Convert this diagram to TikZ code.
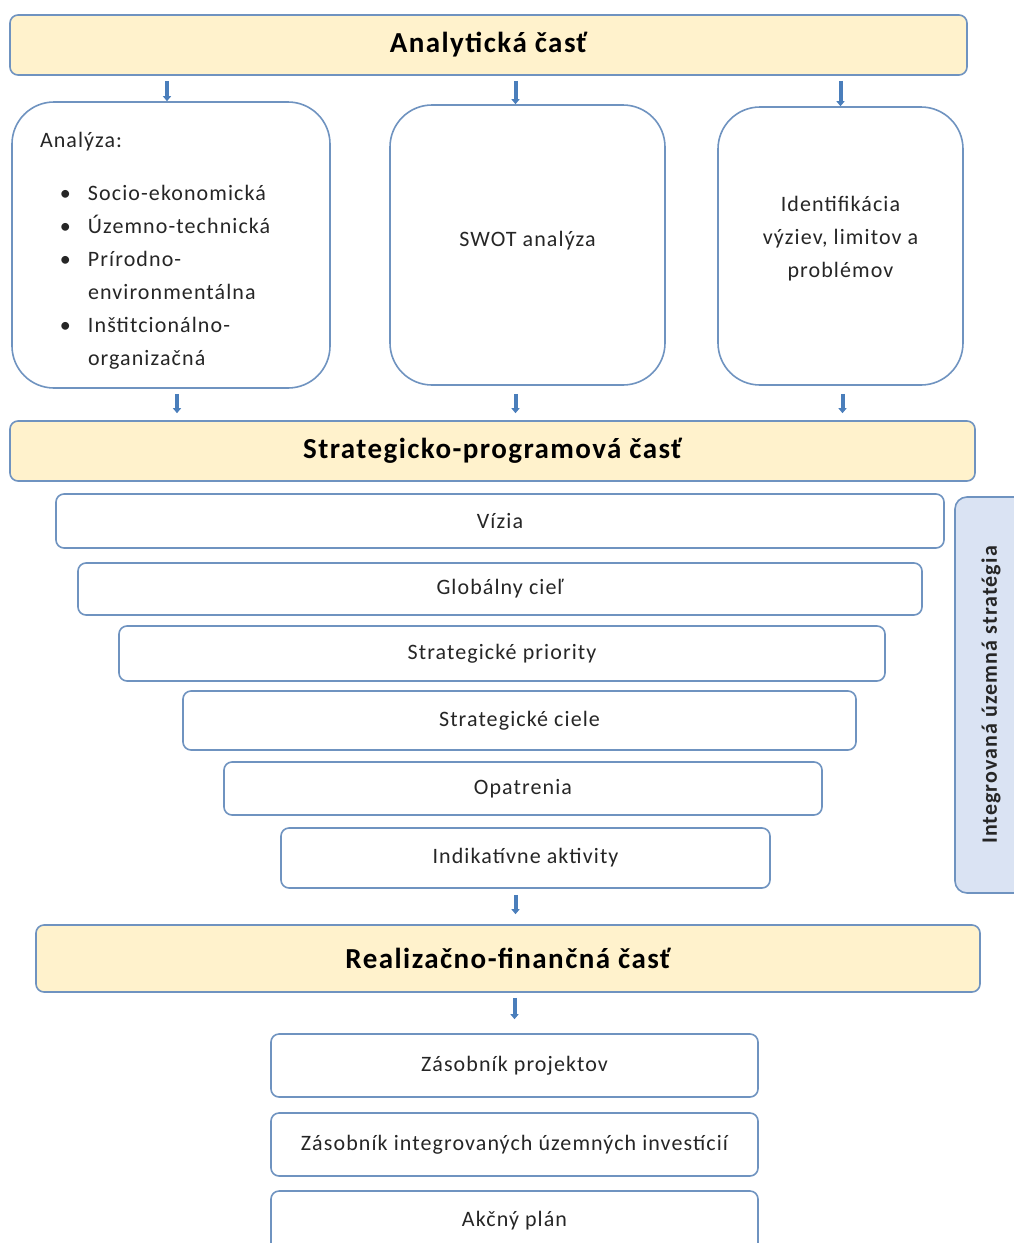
\documentclass[tikz,border=0pt]{standalone}
\usepackage{fontspec}
\setmainfont{Carlito}[LetterSpace=5]
\usetikzlibrary{arrows.meta}
\definecolor{edgeblue}{HTML}{6F93C0}
\definecolor{headfill}{HTML}{FFF2CC}
\definecolor{sidefill}{HTML}{DAE3F3}
\definecolor{arrowblue}{HTML}{4A7EBB}
\definecolor{textgray}{HTML}{262626}
\newcommand\itm{\makebox[48pt][l]{\hspace{20pt}\textbullet}}
\newcommand\ind{\hspace*{48pt}}
\tikzset{
    head/.style={draw=edgeblue, line width=1.6pt, fill=headfill, rounded corners=8pt,
        font=\fontsize{29}{34}\selectfont\bfseries, text=black},
    bigbox/.style={draw=edgeblue, line width=1.6pt, fill=white, rounded corners=42pt,
        font=\fontsize{22}{33}\selectfont, text=textgray},
    stepbox/.style={draw=edgeblue, line width=1.6pt, fill=white, rounded corners=8pt,
        font=\fontsize{22}{26}\selectfont, text=textgray},
    arr/.style={draw=arrowblue, line width=4pt, -{Triangle[width=8pt,length=5pt]}}
}
\begin{document}
\begin{tikzpicture}[x=1pt, y=-1pt]
    \useasboundingbox (0,0) rectangle (1014,1243);
    % analyticka cast
    \node[head, minimum width=957, minimum height=60] (h1) at (488.5,45) {Analytická časť};
    \node[bigbox, minimum width=318, minimum height=286, text width=262, align=left] (analyza) at (171,245)
        {\mbox{}\\[-7pt]
         Analýza:\\[20pt]
         \itm Socio-ekonomická\\
         \itm Územno-technická\\
         \itm Prírodno-\\
         \ind environmentálna\\
         \itm Inštitcionálno-\\
         \ind organizačná};
    \node[bigbox, minimum width=275, minimum height=280, align=center] (swot) at (527.5,245) {SWOT analýza\\[-21pt]};
    \node[bigbox, minimum width=245, minimum height=278, align=center] (vyzvy) at (840.5,246)
        {Identifikácia\\výziev, limitov a\\problémov\\[-15pt]};
    \draw[arr, shorten <=5pt] ([xshift=-4pt]analyza.north |- h1.south) -- ([xshift=-4pt]analyza.north);
    \draw[arr, shorten <=5pt] ([xshift=-12pt]swot.north |- h1.south) -- ([xshift=-12pt]swot.north);
    \draw[arr, shorten <=5pt] (vyzvy.north |- h1.south) -- (vyzvy.north);
    % strategicko-programova cast
    \node[head, minimum width=965, minimum height=60] (h2) at (492.5,451) {Strategicko-programová časť};
    \draw[arr, shorten <=5pt, shorten >=7pt] ([xshift=6pt]analyza.south) -- ([xshift=6pt]analyza.south |- h2.north);
    \draw[arr, shorten <=8pt, shorten >=7pt] ([xshift=-12pt]swot.south) -- ([xshift=-12pt]swot.south |- h2.north);
    \draw[arr, shorten <=8pt, shorten >=7pt] ([xshift=2pt]vyzvy.south) -- ([xshift=2pt]vyzvy.south |- h2.north);
    \node[stepbox, minimum width=888, minimum height=54] (vizia) at (500,521) {Vízia};
    \node[stepbox, minimum width=844, minimum height=52] (ciel) at (500,589) {Globálny cieľ};
    \node[stepbox, minimum width=766, minimum height=55] (priority) at (502,653.5) {Strategické priority};
    \node[stepbox, minimum width=673, minimum height=59] (ciele) at (519.5,720.5) {Strategické ciele};
    \node[stepbox, minimum width=598, minimum height=53] (opatrenia) at (523,788.5) {Opatrenia};
    \node[stepbox, minimum width=489, minimum height=60] (aktivity) at (525.5,858) {Indikatívne aktivity};
    \node[draw=edgeblue, line width=1.6pt, fill=sidefill, rounded corners=12pt,
        minimum width=90, minimum height=396] (its) at (1000,695) {};
    \node[rotate=90, font=\fontsize{22}{26}\selectfont\bfseries, text=textgray] (itstext) at (991,695)
        {Integrovaná územná stratégia};
    % realizacno-financna cast
    \node[head, minimum width=944, minimum height=67] (h3) at (508,958.5) {Realizačno-finančná časť};
    \draw[arr, shorten <=6pt, shorten >=10pt] ([xshift=-10pt]aktivity.south) -- ([xshift=-10pt]aktivity.south |- h3.north);
    \node[stepbox, minimum width=487, minimum height=63] (projekty) at (514.5,1065.5) {Zásobník projektov};
    \node[stepbox, minimum width=487, minimum height=63] (iui) at (514.5,1144.5) {Zásobník integrovaných územných investícií};
    \node[stepbox, minimum width=487, minimum height=60] (plan) at (514.5,1221) {Akčný plán\\[8pt]};
    \draw[arr, shorten <=5pt, shorten >=14pt] (h3.south -| projekty.north) -- (projekty.north);
\end{tikzpicture}
\end{document}
